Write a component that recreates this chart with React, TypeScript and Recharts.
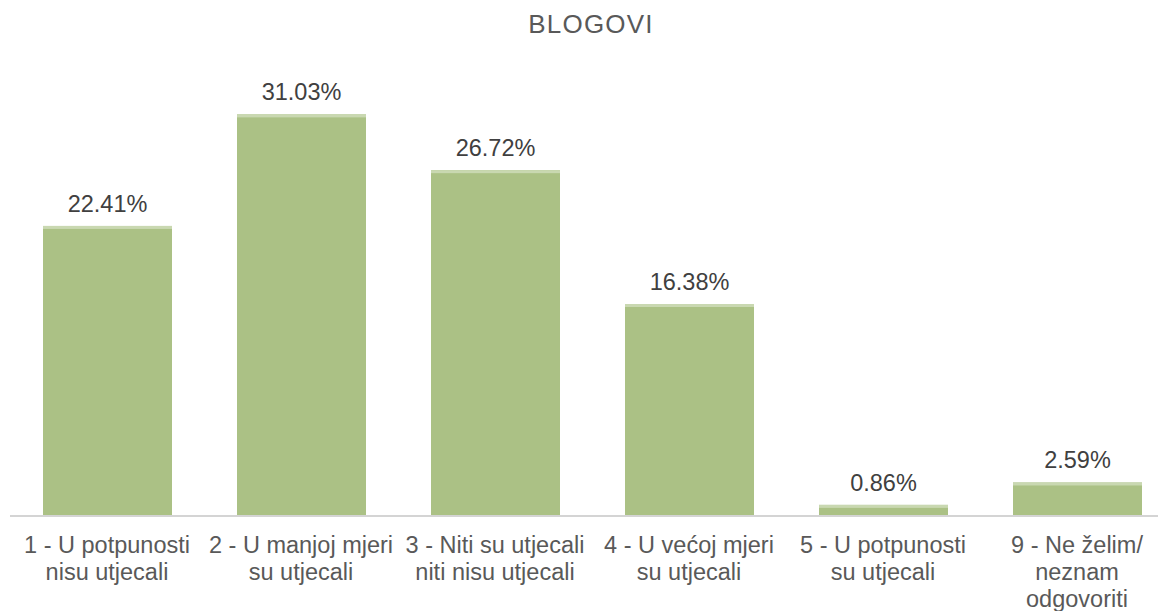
import React from "react";
import { BarChart, Bar, XAxis, YAxis, LabelList } from "recharts";

const categories = [
  "1 - U potpunosti\nnisu utjecali",
  "2 - U manjoj mjeri\nsu utjecali",
  "3 - Niti su utjecali\nniti nisu utjecali",
  "4 - U većoj mjeri\nsu utjecali",
  "5 - U potpunosti\nsu utjecali",
  "9 - Ne želim/\nneznam\nodgovoriti",
];

const shares = [22.41, 31.03, 26.72, 16.38, 0.86, 2.59];

const title = "BLOGOVI";

const FONT = "'Liberation Sans', Arial, sans-serif";

const chartData = categories.map((name, i) => ({ name, value: shares[i] }));

// bar with the thin lighter strip on top, like the original export
function GreenBar(props: any) {
  const { x, y, width, height } = props;
  if (!height || height <= 0) return null;
  const strip = Math.min(3, height);
  return (
    <g>
      <rect x={x} y={y} width={width} height={height} fill="#ABC185" />
      <rect x={x} y={y} width={width} height={strip} fill="#C9D8B1" />
    </g>
  );
}

function CategoryTick(props: any) {
  const { x, y, payload } = props;
  const lines = String(payload.value).split("\n");
  return (
    <text
      x={x}
      y={y + 37}
      textAnchor="middle"
      fill="#595959"
      fontSize={23.5}
      fontFamily={FONT}
    >
      {lines.map((line, i) => (
        <tspan key={i} x={x} dy={i === 0 ? 0 : 27}>
          {line}
        </tspan>
      ))}
    </text>
  );
}

function ValueLabel(props: any) {
  const { x, y, width, value } = props;
  return (
    <text
      x={x + width / 2}
      y={y - 14}
      textAnchor="middle"
      fill="#404040"
      fontSize={23.5}
      fontFamily={FONT}
    >
      {Number(value).toFixed(2)}%
    </text>
  );
}

export default function App() {
  return (
    <div
      style={{
        position: "absolute",
        left: 0,
        top: 0,
        width: 1158,
        height: 611,
        overflow: "hidden",
        background: "#fff",
      }}
    >
      <div
        style={{
          position: "absolute",
          left: 491,
          top: 9,
          width: 200,
          textAlign: "center",
          fontFamily: FONT,
          fontSize: 26,
          letterSpacing: 1.2,
          color: "#595959",
        }}
      >
        {title}
      </div>
      <BarChart
        width={1180}
        height={611}
        data={chartData}
        margin={{ top: 63, right: 6, bottom: 0, left: 10 }}
      >
        <XAxis
          dataKey="name"
          height={95}
          interval={0}
          tickLine={false}
          tickSize={0}
          tickMargin={0}
          axisLine={{ stroke: "#D4D4D4", strokeWidth: 2 }}
          tick={<CategoryTick />}
        />
        <YAxis hide domain={[0, 35]} />
        <Bar
          dataKey="value"
          barSize={129}
          shape={<GreenBar />}
          isAnimationActive={false}
        >
          <LabelList dataKey="value" content={<ValueLabel />} />
        </Bar>
      </BarChart>
    </div>
  );
}
